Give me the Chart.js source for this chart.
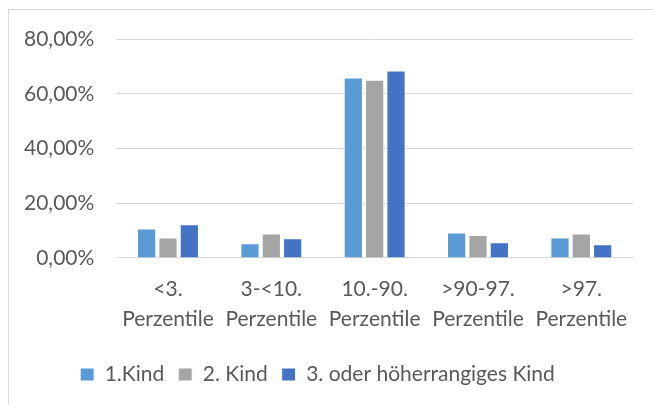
<!DOCTYPE html>
<html>
<head>
<meta charset="utf-8">
<script src="https://cdn.jsdelivr.net/npm/chart.js@4"></script>
<style>
  html, body { margin: 0; padding: 0; background: #fff; }
  #wrap { position: relative; width: 653px; height: 405px; }
  #rahmen {
    position: absolute; left: 8px; top: 9px; right: -2px; bottom: -2px;
    border-left: 1px solid #d9d9d9; border-top: 1px solid #d9d9d9;
    pointer-events: none;
  }
</style>
</head>
<body>
<div id="wrap">
  <canvas id="grafico" width="653" height="405"></canvas>
  <div id="rahmen"></div>
</div>
<script>
// Kategorien (zweizeilige Beschriftung)
const kategorien = [
  ["<3.", "Perzentile"],
  ["3-<10.", "Perzentile"],
  ["10.-90.", "Perzentile"],
  [">90-97.", "Perzentile"],
  [">97.", "Perzentile"]
];

// Werte in Prozent
const kind1 = [10.8, 5.4, 65.9, 9.3, 7.5];
const kind2 = [7.5, 8.9, 65.1, 8.4, 8.9];
const kind3 = [12.3, 7.2, 68.5, 5.7, 5.0];

const serienNamen = ["1.Kind", "2. Kind", "3. oder höherrangiges Kind"];
const farben = ["#5b9bd5", "#a5a5a5", "#4472c4"];

const schrift = { family: "Lato", size: 21 };
const textFarbe = "#595959";

function datensatz(name, werte, farbe) {
  return {
    label: name,
    data: werte,
    backgroundColor: farbe,
    borderColor: "#ffffff",
    borderWidth: 1,
    categoryPercentage: 0.62,
    barPercentage: 0.9
  };
}

const ctx = document.getElementById("grafico").getContext("2d");
new Chart(ctx, {
  type: "bar",
  data: {
    labels: kategorien,
    datasets: [
      datensatz(serienNamen[0], kind1, farben[0]),
      datensatz(serienNamen[1], kind2, farben[1]),
      datensatz(serienNamen[2], kind3, farben[2])
    ]
  },
  options: {
    responsive: false,
    animation: false,
    layout: {
      padding: { top: 39, right: 20, left: 2, bottom: 10 }
    },
    plugins: {
      legend: {
        position: "bottom",
        labels: {
          color: textFarbe,
          font: schrift,
          boxWidth: 14,
          boxHeight: 13,
          padding: 14
        }
      },
      tooltip: { enabled: false }
    },
    scales: {
      x: {
        grid: { display: false, drawTicks: false },
        border: { display: true, color: "#d9d9d9", width: 1 },
        ticks: {
          color: textFarbe,
          font: { family: "Lato", size: 21, lineHeight: 1.43 },
          padding: 16,
          maxRotation: 0,
          autoSkip: false
        }
      },
      y: {
        min: 0,
        max: 80,
        grid: { color: "#d9d9d9", lineWidth: 1, drawTicks: false },
        border: { display: false },
        ticks: {
          stepSize: 20,
          color: textFarbe,
          font: schrift,
          padding: 22,
          callback: v => v.toFixed(2).replace(".", ",") + "%"
        }
      }
    }
  }
});
</script>
</body>
</html>
